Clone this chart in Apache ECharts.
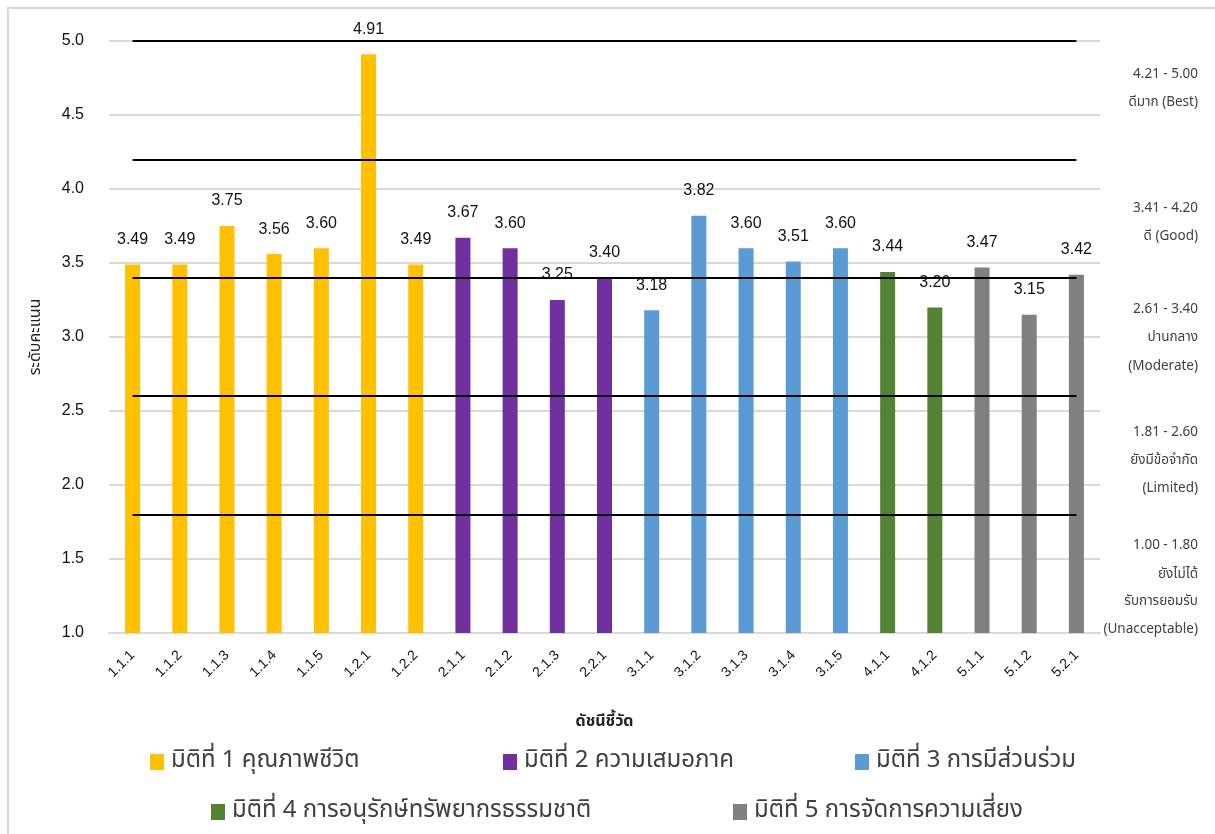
<!DOCTYPE html>
<html>
<head>
<meta charset="utf-8">
<script src="https://cdn.jsdelivr.net/npm/echarts@6/dist/echarts.min.js"></script>
<style>
  html, body { margin: 0; padding: 0; background: #fff; }
  #chart { width: 1215px; height: 834px; }
</style>
</head>
<body>
<div id="chart"></div>
<script>
// Indicator codes along the x axis
const categories = ['1.1.1', '1.1.2', '1.1.3', '1.1.4', '1.1.5', '1.2.1', '1.2.2',
  '2.1.1', '2.1.2', '2.1.3', '2.2.1',
  '3.1.1', '3.1.2', '3.1.3', '3.1.4', '3.1.5',
  '4.1.1', '4.1.2',
  '5.1.1', '5.1.2', '5.2.1'];

// Scores per dimension (each dimension covers its own indicators)
const dim1 = ['3.49', '3.49', '3.75', '3.56', '3.60', '4.91', '3.49'];
const dim2 = ['3.67', '3.60', '3.25', '3.40'];
const dim3 = ['3.18', '3.82', '3.60', '3.51', '3.60'];
const dim4 = ['3.44', '3.20'];
const dim5 = ['3.47', '3.15', '3.42'];

const seriesNames = [
  'มิติที่ 1 คุณภาพชีวิต',
  'มิติที่ 2 ความเสมอภาค',
  'มิติที่ 3 การมีส่วนร่วม',
  'มิติที่ 4 การอนุรักษ์ทรัพยากรธรรมชาติ',
  'มิติที่ 5 การจัดการความเสี่ยง'
];
const seriesColors = ['#FFC000', '#7030A0', '#5B9BD5', '#548235', '#808080'];

// Level boundaries drawn as black reference lines
const thresholds = [5.0, 4.2, 3.4, 2.6, 1.8];

// Level descriptions shown at the right
const levelTexts = [
  ['4.21 - 5.00', 'ดีมาก (Best)'],
  ['3.41 - 4.20', 'ดี (Good)'],
  ['2.61 - 3.40', 'ปานกลาง', '(Moderate)'],
  ['1.81 - 2.60', 'ยังมีข้อจำกัด', '(Limited)'],
  ['1.00 - 1.80', 'ยังไม่ได้', 'รับการยอมรับ', '(Unacceptable)']
];
const levelTextY = [
  [75, 103],
  [209, 237],
  [310, 338, 367],
  [433, 461, 489],
  [546, 575, 602, 630]
];

const THAI = '"Noto Sans Thai", "Noto Sans", "DejaVu Sans", sans-serif';
const NUM = '"Liberation Sans", Arial, sans-serif';

// Place each dimension's values at its own indicator positions
const groups = [dim1, dim2, dim3, dim4, dim5];
let offset = 0;
const series = groups.map((vals, gi) => {
  const data = categories.map(() => '-');
  vals.forEach((v, i) => { data[offset + i] = v; });
  offset += vals.length;
  return {
    name: seriesNames[gi],
    type: 'bar',
    stack: 'score',
    barWidth: 15,
    data: data,
    itemStyle: { color: seriesColors[gi] },
    label: {
      show: true,
      position: 'top',
      distance: 17,
      fontFamily: NUM,
      fontSize: 16,
      color: '#111',
      formatter: p => Number(p.value).toFixed(2)
    }
  };
});

// Reference lines span from the first to the last indicator
series.push({
  name: 'levels',
  type: 'line',
  data: [],
  silent: true,
  z: 5,
  markLine: {
    silent: true,
    symbol: ['none', 'none'],
    label: { show: false },
    lineStyle: { color: '#000', width: 2, type: 'solid' },
    data: thresholds.map(t => [
      { coord: [categories[0], t] },
      { coord: [categories[categories.length - 1], t] }
    ])
  }
});

// One legend block per dimension so the two-row layout can be placed exactly
const legendPos = [
  { left: 145, top: 745 },
  { left: 498, top: 745 },
  { left: 850, top: 745 },
  { left: 206, top: 795 },
  { left: 728, top: 795 }
];
const legends = seriesNames.map((n, i) => ({
  data: [n],
  left: legendPos[i].left,
  top: legendPos[i].top,
  icon: 'rect',
  itemWidth: 14,
  itemHeight: 16,
  itemGap: 10,
  selectedMode: false,
  textStyle: { fontFamily: THAI, fontSize: 24, color: '#404040', padding: [0, 0, 0, 2] }
}));

const graphics = [{
  type: 'rect',
  shape: { x: 8, y: 8, width: 1230, height: 860 },
  style: { fill: 'none', stroke: '#d9d9d9', lineWidth: 2 },
  silent: true
}];
levelTexts.forEach((lines, i) => {
  lines.forEach((t, j) => {
    graphics.push({
      type: 'text',
      x: 1198,
      y: levelTextY[i][j],
      silent: true,
      style: {
        text: t,
        align: 'right',
        verticalAlign: 'middle',
        fontFamily: THAI,
        fontSize: 13.5,
        fill: '#404040'
      }
    });
  });
});

const chart = echarts.init(document.getElementById('chart'));
chart.setOption({
  animation: false,
  backgroundColor: '#fff',
  grid: { left: 109, right: 115, top: 41, bottom: 201 },
  legend: legends,
  graphic: graphics,
  xAxis: {
    type: 'category',
    data: categories,
    boundaryGap: true,
    name: 'ดัชนีชี้วัด',
    nameLocation: 'middle',
    nameGap: 82,
    nameTextStyle: { fontFamily: THAI, fontSize: 16, fontWeight: 'bold', color: '#222' },
    axisLine: { lineStyle: { color: '#d9d9d9', width: 2 } },
    axisTick: { show: false },
    axisLabel: {
      rotate: 45,
      margin: 20,
      interval: 0,
      fontFamily: NUM,
      fontSize: 14,
      color: '#111'
    }
  },
  yAxis: {
    type: 'value',
    min: 1,
    max: 5,
    interval: 0.5,
    name: 'ระดับคะแนน',
    nameLocation: 'middle',
    nameGap: 64,
    nameRotate: 90,
    nameTextStyle: { fontFamily: THAI, fontSize: 16, color: '#222' },
    axisLine: { show: false },
    axisTick: { show: false },
    splitLine: { lineStyle: { color: '#d9d9d9', width: 2 } },
    axisLabel: {
      margin: 25,
      fontFamily: NUM,
      fontSize: 16,
      color: '#111',
      formatter: v => v.toFixed(1)
    }
  },
  series: series
});
</script>
</body>
</html>
